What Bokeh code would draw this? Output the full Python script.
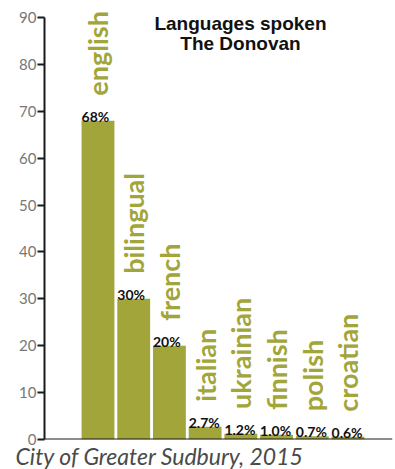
import math
from bokeh.plotting import figure
from bokeh.models import ColumnDataSource, LabelSet, Label, FixedTicker, Range1d, Span, Title
from bokeh.core.properties import value
from bokeh.embed import file_html
from bokeh.resources import INLINE

languages = ["english", "bilingual", "french", "italian", "ukrainian", "finnish", "polish", "croatian"]
values = [68, 30, 20, 2.7, 1.2, 1.0, 0.7, 0.6]
pct_labels = ["68%", "30%", "20%", "2.7%", "1.2%", "1.0%", "0.7%", "0.6%"]
y_ticks = [0, 10, 20, 30, 40, 50, 60, 70, 80, 90]
title_lines = ["Languages spoken", "The Donovan"]
footer = "City of Greater Sudbury, 2015"

OLIVE = "#a2a53a"

pos = list(range(1, len(languages) + 1))
src = ColumnDataSource(dict(
    x=pos,
    left=[p - 0.46 for p in pos],
    top=values,
    lang=languages,
    pct=pct_labels,
))

p = figure(width=395, height=469, output_backend="svg", toolbar_location=None,
           x_range=Range1d(-0.498, 9.247), y_range=Range1d(0, 92.56),
           min_border_left=44, min_border_right=3, min_border_top=5, min_border_bottom=30)
p.outline_line_color = None
p.xgrid.visible = False
p.ygrid.visible = False
p.xaxis.visible = False
p.background_fill_color = "white"
p.border_fill_color = "white"

p.vbar(x="x", top="top", bottom=0, width=0.92, source=src, fill_color=OLIVE, line_color=None)

# baseline (x axis line)
p.add_layout(Span(location=0, dimension="width", line_color="#1a1a1a", line_width=2))

# y axis
p.yaxis.bounds = (0, 90)
p.yaxis.ticker = FixedTicker(ticks=y_ticks)
p.yaxis.axis_line_color = "#1a1a1a"
p.yaxis.axis_line_width = 2
p.yaxis.major_tick_line_color = "#1a1a1a"
p.yaxis.major_tick_line_width = 2
p.yaxis.major_tick_out = 7
p.yaxis.major_tick_in = 0
p.yaxis.minor_tick_line_color = None
p.yaxis.major_label_standoff = 1
p.yaxis.major_label_text_font = "Lato"
p.yaxis.major_label_text_font_size = "15px"
p.yaxis.major_label_text_color = "#777777"

# vertical language labels
p.add_layout(LabelSet(x="x", y="top", text="lang", source=src, angle=math.pi / 2,
                      text_align="left", text_baseline="middle", y_offset=25,
                      text_font=value("Lato"), text_font_style="bold",
                      text_font_size="27px", text_color=OLIVE))

# percent labels
p.add_layout(LabelSet(x="left", y="top", text="pct", source=src,
                      text_align="left", text_baseline="alphabetic", y_offset=-1,
                      text_font=value("Lato"), text_font_style="bold", text_font_size="14px",
                      text_color="#111111"))

# title
p.add_layout(Label(x=4.99, y=88.72, text=title_lines[0], text_align="center", text_baseline="alphabetic",
                   text_font="Liberation Sans", text_font_style="bold", text_font_size="19px",
                   text_color="#111111"))
p.add_layout(Label(x=4.99, y=84.45, text=title_lines[1], text_align="center", text_baseline="alphabetic",
                   text_font="Liberation Sans", text_font_style="bold", text_font_size="19px",
                   text_color="#111111"))

# footer (source note)
p.add_layout(Title(text=footer, align="left", offset=-29, standoff=0,
                   text_font="Lato", text_font_style="italic", text_font_size="23px",
                   text_color="#4a4a4a"), "below")

open("out.html", "w").write(file_html(p, INLINE))
